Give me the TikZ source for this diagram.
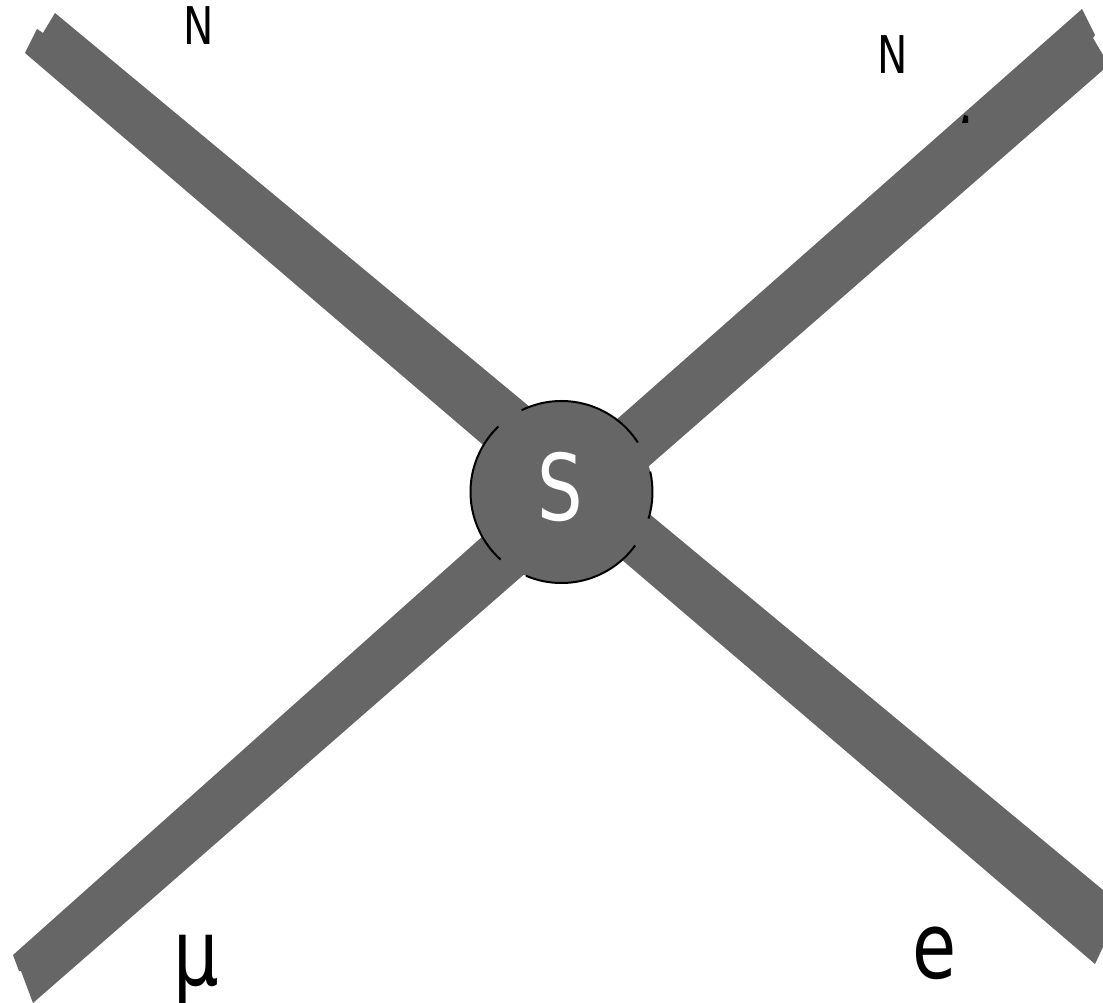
\documentclass[tikz,border=0pt]{standalone}
\usepackage{fontspec}
\newfontfamily\labfont{DejaVu Sans}[FakeStretch=0.78]
\definecolor{bargray}{HTML}{666666}
\begin{document}
\begin{tikzpicture}[x=1pt,y=-1pt,
  bar/.style={fill=bargray,draw=none},
  rim/.style={draw=black,line width=2pt},
  biglabel/.style={inner sep=0pt,anchor=base,font=\labfont\fontsize{92}{92}\selectfont},
  smalllabel/.style={inner sep=0pt,anchor=base,font=\labfont\fontsize{52}{52}\selectfont}]
\useasboundingbox (0,0) rectangle (1103,1003);
% bars
\fill[bar] (55,13) -- (43,33) -- (37,29) -- (25,53) -- (530,485) -- (560,432) -- cycle;
\fill[bar] (1082,9) -- (1095,35) -- (1093,38) -- (1103,55) -- (1103,70) -- (610,500) -- (590,443) -- cycle;
\fill[bar] (13,955) -- (19,971) -- (21,971) -- (33,1003) -- (560,543) -- (530,494) -- cycle;
\fill[bar] (1103,890) -- (1103,947) -- (1095,964) -- (580,524) -- (600,473) -- cycle;
% small artifact
\fill[black] (962,123) -- (964,115) -- (968,116) -- (968,123) -- cycle;
% central circle
\node[circle,fill=bargray,minimum size=182pt,inner sep=0pt] (hub) at (561.5,492) {};
\draw[rim] (hub.center) ++(36:91) arc[start angle=36,end angle=113,radius=91];
\draw[rim] (hub.center) ++(132:91) arc[start angle=132,end angle=226,radius=91];
\draw[rim] (hub.center) ++(244:91) arc[start angle=244,end angle=327,radius=91];
\draw[rim] (hub.center) ++(347:91) arc[start angle=347,end angle=377,radius=91];
\node[biglabel,text=white] (s) at (560,520) {S};
% labels
\node[smalllabel] (n1) at (198.5,45) {N};
\node[smalllabel] (n2) at (893,74) {N};
\node[biglabel] (mu) at (196.5,985) {μ};
\node[biglabel] (e) at (934.5,978) {e};
\end{tikzpicture}
\end{document}
